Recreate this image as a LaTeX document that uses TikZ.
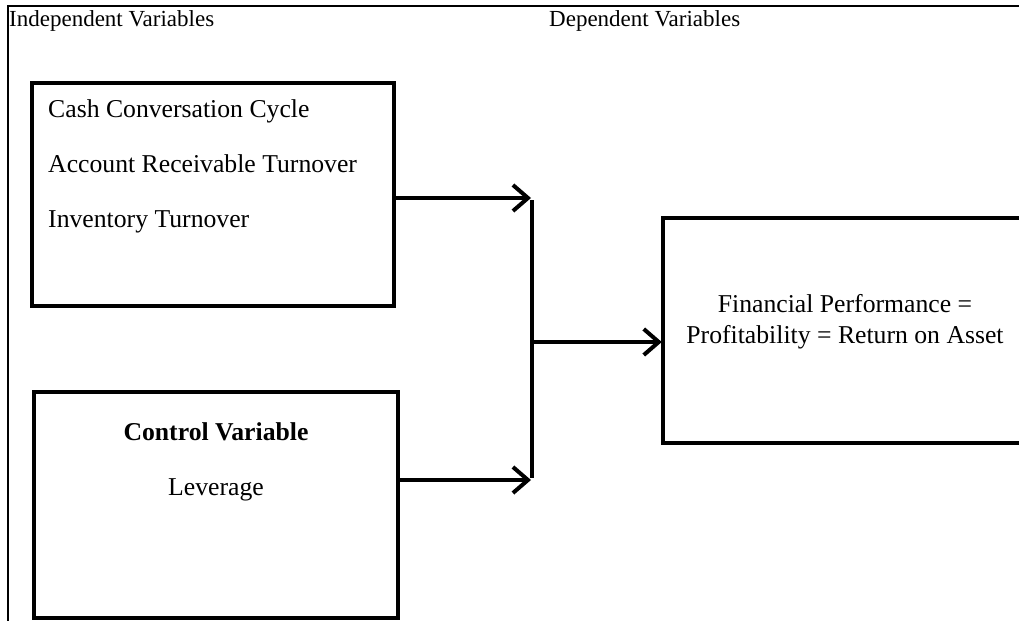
\documentclass[tikz,border=0pt]{standalone}
\usepackage{fontspec}
\setmainfont{Liberation Serif}
\usetikzlibrary{arrows.meta}
\tikzset{
  boxline/.style={line width=4pt, line join=miter},
  framebox/.style={draw, boxline, inner sep=0pt, anchor=center},
  conn/.style={line width=4pt, -{Straight Barb[length=15pt,width=26pt,line width=4pt]}},
  barline/.style={line width=4pt},
  frameline/.style={line width=1.4pt},
  toplabel/.style={font=\fontsize{23}{26}\selectfont, anchor=base west, inner sep=0pt},
  itemtext/.style={font=\fontsize{25.7}{30}\selectfont, anchor=base west, inner sep=0pt},
  ctext/.style={font=\fontsize{25.7}{30}\selectfont, anchor=base, inner sep=0pt},
}
\begin{document}
\begin{tikzpicture}[x=1pt,y=-1pt]
\useasboundingbox (0,0) rectangle (1019,621);
% outer frame
\coordinate (ftr) at (1019,6);
\coordinate (ftl) at (8,6);
\coordinate (fbl) at (8,621);
\draw[frameline] (ftr) -- (ftl) -- (fbl);
% top labels
\node[toplabel] (indep) at (9,27) {Independent Variables};
\node[toplabel] (dep) at (549,27) {Dependent Variables};
% box 1
\node[framebox, minimum width=362pt, minimum height=223pt] (box1) at (213,194.5) {};
\node[itemtext] (t1) at (48,117) {Cash Conversation Cycle};
\node[itemtext] (t2) at (48,172) {Account Receivable Turnover};
\node[itemtext] (t3) at (48,227) {Inventory Turnover};
% box 2
\node[framebox, minimum width=364pt, minimum height=226pt] (box2) at (216,505) {};
\node[ctext, font=\fontsize{25.7}{30}\selectfont\bfseries] (cv) at (216,440) {Control Variable};
\node[ctext] (lev) at (216,495) {Leverage};
% right box (cut off at right edge)
\node[inner sep=0pt, minimum width=360pt, minimum height=225pt] (rb) at (843,330.5) {};
\draw[boxline] (rb.north east) -- (rb.north west) -- (rb.south west) -- (rb.south east);
\node[ctext] (fp1) at (845,312) {Financial Performance =};
\node[ctext] (fp2) at (845,343) {Profitability = Return on Asset};
% junction bar
\coordinate (j1) at (532,198);
\coordinate (j2) at (532,480);
\coordinate (jm) at (532,342);
\draw[barline] ([yshift=-2pt]j1) -- ([yshift=2pt]j2);
% connectors
\draw[conn, shorten >=1pt] (box1.east |- j1) -- (j1);
\draw[conn, shorten >=1pt] (box2.east |- j2) -- (j2);
\draw[conn, shorten >=1pt] (jm) -- (jm -| rb.west);
\end{tikzpicture}
\end{document}
